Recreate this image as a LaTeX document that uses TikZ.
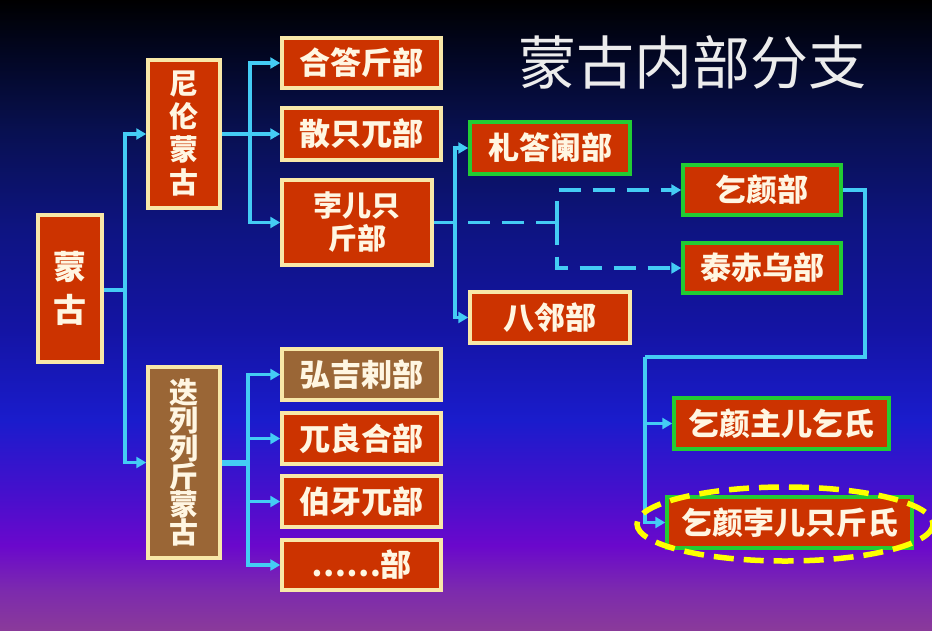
\documentclass[tikz,border=0pt]{standalone}
\usepackage{fontspec}
\usetikzlibrary{arrows.meta}
\newfontfamily\cjk{Noto Sans CJK SC}

\definecolor{boxred}{HTML}{CC3300}
\definecolor{boxbrown}{HTML}{9A6636}
\definecolor{boxedge}{HTML}{F8E8A8}
\definecolor{boxgreen}{HTML}{22CC33}
\definecolor{linkcyan}{HTML}{44CCF4}
\definecolor{boxtext}{HTML}{FFF6E2}
\definecolor{ringyellow}{HTML}{FFFF00}
\definecolor{bgA}{HTML}{8A3A9A}
\definecolor{bgB}{HTML}{7C2AAE}
\definecolor{bgC}{HTML}{6A08CC}
\definecolor{bgD}{HTML}{4410CC}
\definecolor{bgE}{HTML}{1A1CCC}
\definecolor{bgF}{HTML}{1414A4}
\definecolor{bgG}{HTML}{0E1482}
\definecolor{bgH}{HTML}{081050}
\definecolor{bgI}{HTML}{020620}
\definecolor{bgJ}{HTML}{000000}

\pgfdeclareverticalshading{bgfade}{100bp}{color(0bp)=(bgA); color(25bp)=(bgA);
  color(28.2bp)=(bgB); color(31.7bp)=(bgC); color(36.1bp)=(bgD);
  color(41.7bp)=(bgE); color(48.8bp)=(bgF); color(56.7bp)=(bgG);
  color(64.7bp)=(bgH); color(71bp)=(bgI); color(75bp)=(bgJ); color(100bp)=(bgJ)}

\begin{document}
\begin{tikzpicture}[x=1pt,y=-1pt,
    box/.style={draw=boxedge,fill=boxred,line width=3.5pt,text=boxtext,inner sep=0pt,
      font=\cjk\bfseries\fontsize{31}{33}\selectfont},
    tall/.style={box,align=center,font=\cjk\bfseries\fontsize{29}{33}\selectfont},
    greenbox/.style={box,draw=boxgreen},
    brownbox/.style={fill=boxbrown},
    link/.style={draw=linkcyan,line width=3.5pt},
    tip/.style={-{Triangle[length=10pt,width=11pt]}},
    arr/.style={link,tip},
    dlink/.style={link,dash pattern=on 22pt off 12pt}]

    \shade[shading=bgfade] (0,0) rectangle (932,630);
    \useasboundingbox (0,0) rectangle (932,630);

    \node[text=gray!15,font=\cjk\fontsize{58}{60}\selectfont] (title) at (692,62) {蒙古内部分支};

    % left column
    \node[tall,minimum width=64pt,minimum height=147pt,
      font=\cjk\bfseries\fontsize{33}{43}\selectfont] (menggu) at (70,288.5) {蒙\\古};
    \node[tall,minimum width=72pt,minimum height=148pt] (nirun) at (184,134) {尼\\伦\\蒙\\古};
    \node[tall,brownbox,minimum width=72pt,minimum height=191pt,
      font=\cjk\bfseries\fontsize{29}{28}\selectfont] (dielie) at (184,462.5) {迭\\列\\列\\斤\\蒙\\古};

    % nirun branch
    \node[box,minimum width=159pt,minimum height=50pt] (hadajin) at (361.5,63) {合答斤部};
    \node[box,minimum width=159pt,minimum height=52pt] (sanzhi) at (361.5,134) {散只兀部};
    \node[tall,minimum width=150pt,minimum height=85pt] (borjigin) at (357,222.5) {孛儿只\\斤部};
    \node[greenbox,minimum width=160pt,minimum height=52pt] (jadaran) at (550,148) {札答阑部};
    \node[box,minimum width=160pt,minimum height=51pt] (baarin) at (550,317.5) {八邻部};
    \node[greenbox,minimum width=158pt,minimum height=50pt] (kiyan) at (762,190) {乞颜部};
    \node[greenbox,minimum width=158pt,minimum height=50pt] (taichiut) at (762,268) {泰赤乌部};
    \node[greenbox,minimum width=215pt,minimum height=51pt] (jurkin) at (781.5,423.5) {乞颜主儿乞氏};
    \node[greenbox,minimum width=245pt,minimum height=51pt] (kiyanbor) at (789.5,522.5) {乞颜孛儿只斤氏};

    % dielie branch
    \node[box,brownbox,minimum width=159pt,minimum height=51pt] (onggirat) at (361.5,374.5) {弘吉剌部};
    \node[box,minimum width=159pt,minimum height=51pt] (uriankhai) at (361.5,438.5) {兀良合部};
    \node[box,minimum width=159pt,minimum height=51pt] (baya) at (361.5,501.5) {伯牙兀部};
    \node[box,minimum width=159pt,minimum height=50pt] (more) at (361.5,565) {……部};

    % trunks
    \coordinate (t1) at (125,290);
    \coordinate (t2) at (250,134);
    \coordinate (t3) at (455,222.5);
    \coordinate (t4) at (557,222.5);
    \coordinate (c1) at (865,357);
    \coordinate (t5) at (645,357);
    \coordinate (t6) at (248,462.5);

    \draw[link] (menggu.east |- t1) -- (t1);
    \draw[arr] (t1) |- (nirun.west);
    \draw[arr] (t1) |- (dielie.west);

    \draw[link] (nirun.east) -- (t2);
    \draw[arr] (t2) |- (hadajin.west);
    \draw[arr] (t2) -- (sanzhi.west);
    \draw[arr] (t2) |- (borjigin.west);

    \draw[link] (borjigin.east) -- (t3);
    \draw[arr] (t3) |- (jadaran.west);
    \draw[arr] (t3) |- (baarin.west);
    \draw[dlink] (borjigin.east) -- (t4);
    \draw[dlink,tip] (t4) |- (kiyan.west);
    \draw[dlink,tip] (t4) |- (taichiut.west);

    \draw[link] (kiyan.east) -| (c1) -- (t5);
    \draw[arr] (t5) |- (jurkin.west);
    \draw[arr] (t5) |- (kiyanbor.west);

    \draw[link,line width=6pt] (dielie.east) -- (t6);
    \draw[arr] (t6) |- (onggirat.west);
    \draw[arr] (t6) |- (uriankhai.west);
    \draw[arr] (t6) |- (baya.west);
    \draw[arr] (t6) |- (more.west);

    \draw[ringyellow,line width=5.5pt,dash pattern=on 20pt off 10pt] (785,524) ellipse [x radius=148,y radius=37];
\end{tikzpicture}
\end{document}
